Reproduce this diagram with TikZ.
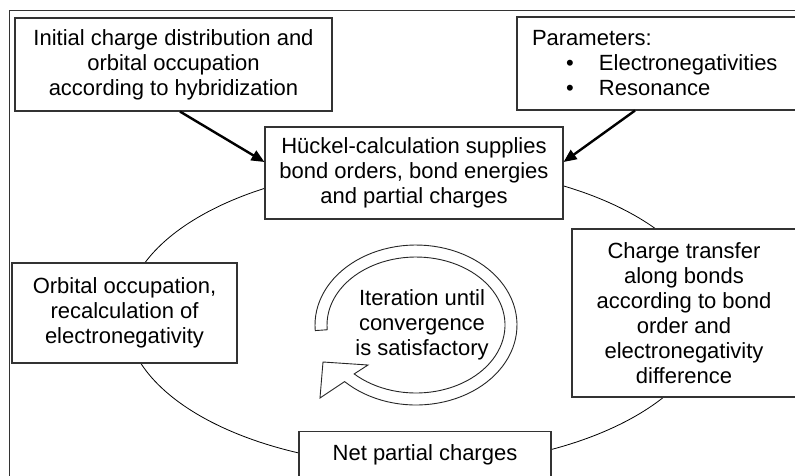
\documentclass[tikz,border=0pt]{standalone}
\usepackage{fontspec}
\setmainfont{Liberation Sans}
\usetikzlibrary{arrows.meta}
\tikzset{
  box/.style={draw=black!80, line width=1.1pt, fill=white, align=center,
    inner sep=0pt, font=\fontsize{22}{25}\selectfont},
  label/.style={align=center, inner sep=0pt, font=\fontsize{22}{25}\selectfont},
  flow/.style={line width=2.4pt, -{Triangle[length=13pt,width=11pt]}},
  ring/.style={black!85, line width=0.9pt},
  frame/.style={black!80, line width=1.1pt}
}
\begin{document}
\begin{tikzpicture}[x=1pt,y=-1pt]
\useasboundingbox (0,0) rectangle (795,475);
\clip (0,0) rectangle (795,475);
\fill[white] (0,0) rectangle (795,475);

% outer frame (runs off the right and bottom edges)
\draw[frame] (9.5,500) -- (9.5,10.5) -- (810,10.5);

% the iteration cycle
\draw[line width=0.8pt] (418,316) ellipse [x radius=292, y radius=150];

% hollow circular arrow
\draw[ring]
  plot[domain=176:495, samples=90] ({416+101*cos(\x)},{325+80*sin(\x)})
  -- (320,398) -- (323,362) -- (368,365)
  -- plot[domain=494:176, samples=90] ({416+89*cos(\x)},{325+68*sin(\x)})
  -- cycle;
\node[label] (iter) at (422,325) {Iteration until\\convergence\\is satisfactory};

% boxes
\node[box, minimum width=317pt, minimum height=93pt] (init) at (173.5,64.5)
  {Initial charge distribution and\\orbital occupation\\according to hybridization};
\node[box, minimum width=283pt, minimum height=93pt, text width=253pt, align=left]
  (param) at (658.5,63.5)
  {Parameters:\\
   \hspace*{34pt}\makebox[33pt][l]{•}Electronegativities\\
   \hspace*{34pt}\makebox[33pt][l]{•}Resonance};
\node[box, minimum width=298pt, minimum height=92pt] (huckel) at (414,173)
  {Hückel-calculation supplies\\bond orders, bond energies\\and partial charges};
\node[box, minimum width=224pt, minimum height=168pt] (transfer) at (684,313)
  {Charge transfer\\along bonds\\according to bond\\order and\\electronegativity\\difference};
\node[box, minimum width=225pt, minimum height=100pt] (orbital) at (124.5,313)
  {Orbital occupation,\\recalculation of\\electronegativity};
\node[box, anchor=north, minimum width=252pt, text height=14pt, text depth=40pt,
  inner ysep=15pt] (net) at (425,431) {Net partial charges};

% inputs to the Hückel step
\draw[flow] ([xshift=6.5pt]init.south) -- ([yshift=11pt]huckel.west);
\draw[flow] ([xshift=-23.5pt]param.south) -- ([yshift=11pt]huckel.east);
\end{tikzpicture}
\end{document}
